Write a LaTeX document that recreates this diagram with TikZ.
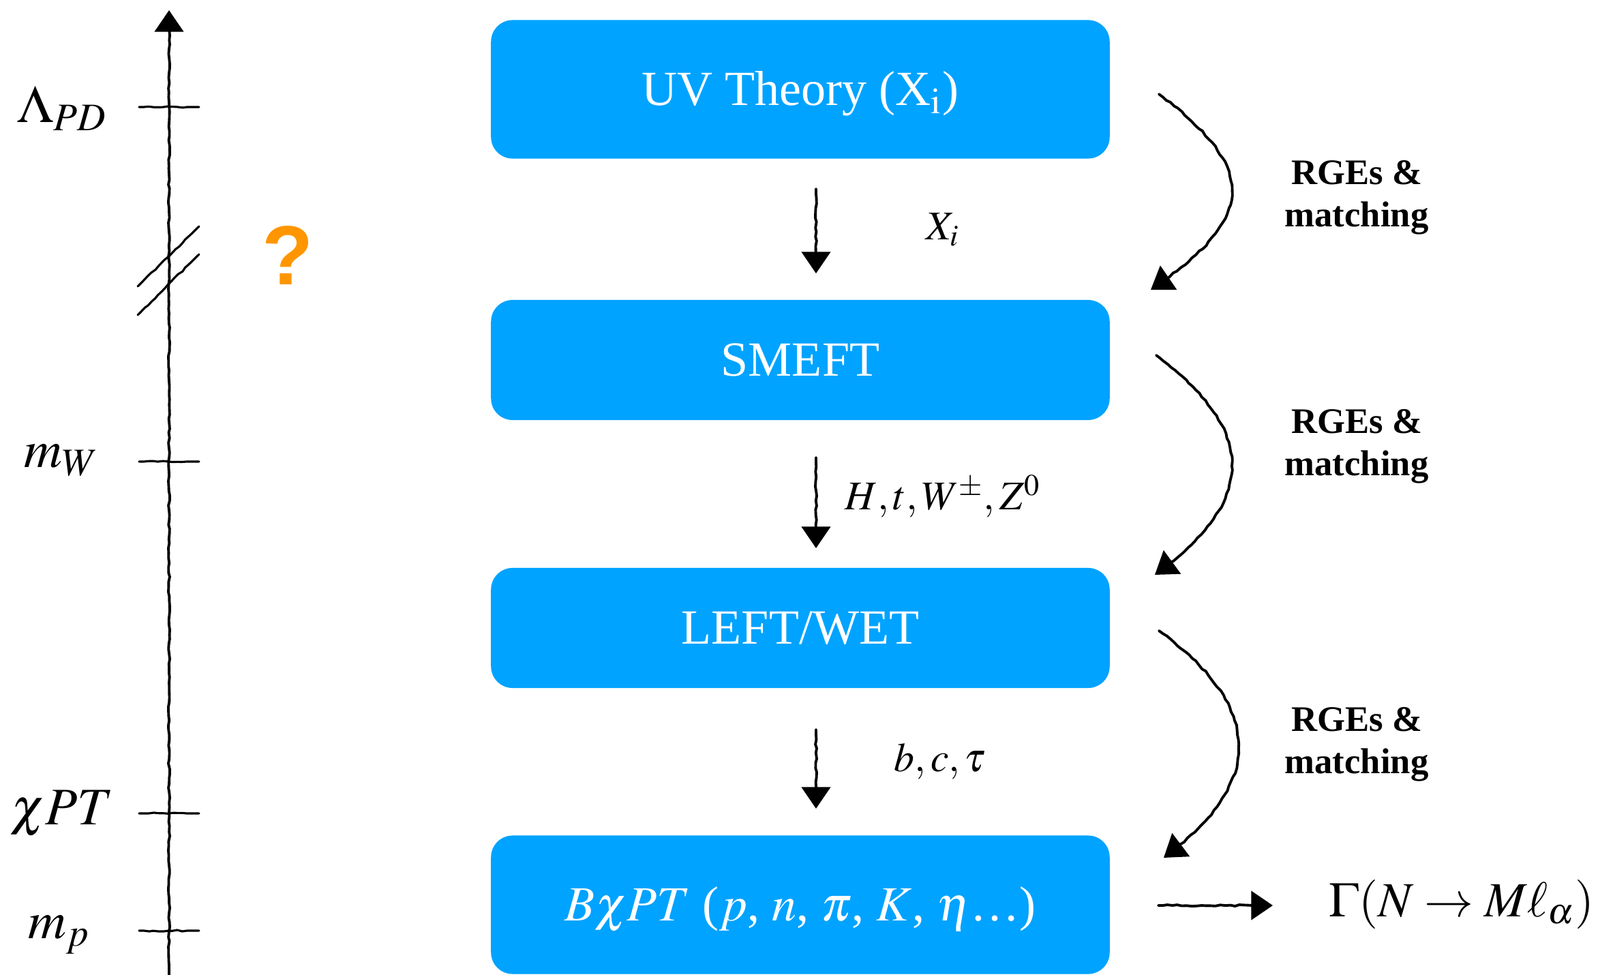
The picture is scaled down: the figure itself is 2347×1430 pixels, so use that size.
\documentclass[tikz,border=0pt]{standalone}
\usepackage{mathptmx}
\usepackage{fontspec}
\setmainfont{Liberation Serif}
\newfontfamily\qfont{Liberation Sans}
\usetikzlibrary{arrows.meta,decorations.pathmorphing}

\definecolor{boxblue}{RGB}{0,163,255}
\definecolor{qorange}{RGB}{255,150,0}

\newcommand{\boxsize}{\fontsize{20.5}{24}\selectfont}
\newcommand{\scalesize}{\fontsize{22}{26}\selectfont}
\newcommand{\fieldsize}{\fontsize{17}{20}\selectfont}
\newcommand{\rgesize}{\fontsize{15}{17.6}\selectfont}

\tikzset{
  sketch/.style={decorate,decoration={random steps,segment length=2pt,
      amplitude=0.3pt,pre length=2pt,post length=5pt},
    line width=1.1pt,line cap=round},
  tip/.style={-{Triangle[width=12pt,length=9pt]}},
  eftbox/.style={rectangle,rounded corners=9pt,fill=boxblue,text=white,
    minimum width=9.07cm,text height=13.6pt,text depth=0pt,font=\boxsize},
}

\begin{document}
\begin{tikzpicture}[x=0.01cm,y=-0.01cm]
  \useasboundingbox (0,0) rectangle (2347,1430);

  % energy axis
  \coordinate (ax0) at (248,1430);
  \coordinate (ax1) at (248,15);
  \draw[sketch,tip] (ax0) -- (ax1);

  \foreach \n/\y in {pd/157,w/677,chi/1193,p/1365}{
    \coordinate (tick\n) at (248,\y);
    \draw[sketch,line width=0.9pt] ([xshift=-0.44cm]tick\n) -- ([xshift=0.44cm]tick\n);
  }

  % axis break
  \coordinate (brk) at (248,397);
  \draw[sketch,line width=0.9pt] ([shift={(-46,23)}]brk) -- ([shift={(44,-65)}]brk);
  \draw[sketch,line width=0.9pt] ([shift={(-46,65)}]brk) -- ([shift={(44,-24)}]brk);

  \begin{scope}[every node/.style={font=\scalesize}]
    \node (lpd)  at (91,159)  {$\Lambda_{PD}$};
    \node (lw)   at (90,675)  {$m_W$};
    \node (lchi) at (91,1193) {$\chi PT$};
    \node (lp)   at (87,1371) {$m_p$};
  \end{scope}

  \node[text=qorange,font=\fontsize{35}{38}\qfont\bfseries] (qm) at (422,375) {?};

  % effective theories
  \begin{scope}[every node/.style={eftbox}]
    \node[minimum height=2.03cm] (uv)    at (1174,131)  {UV Theory (X$_{\mathrm{i}}$)};
    \node[minimum height=1.76cm] (smeft) at (1174,528)  {SMEFT};
    \node[minimum height=1.76cm] (left)  at (1174,921)  {LEFT/WET};
    \node[minimum height=2.03cm] (bchpt) at (1174,1327) {$B\chi PT$ ($p$, $n$, $\pi$, $K$, $\eta$\ldots)};
  \end{scope}

  % integrated out fields
  \coordinate (d1s) at (1197,277);  \coordinate (d1e) at (1197,401);
  \coordinate (d2s) at (1197,671);  \coordinate (d2e) at (1197,804);
  \coordinate (d3s) at (1197,1070); \coordinate (d3e) at (1197,1186);
  \draw[sketch,tip] (d1s) -- (d1e);
  \draw[sketch,tip] (d2s) -- (d2e);
  \draw[sketch,tip] (d3s) -- (d3e);

  \begin{scope}[every node/.style={font=\fieldsize}]
    \node (f1) at (1383,337)  {$X_i$};
    \node (f2) at (1383,728)  {$H, t, W^{\pm}, Z^0$};
    \node (f3) at (1379,1117) {$b, c, \tau$};
  \end{scope}

  % running
  \coordinate (r1s) at (1700,138);  \coordinate (r1e) at (1688,425);
  \coordinate (r2s) at (1696,521);  \coordinate (r2e) at (1694,843);
  \coordinate (r3s) at (1700,925);  \coordinate (r3e) at (1707,1258);
  \draw[sketch,tip] (r1s) .. controls (1845,247) and (1845,319) .. (r1e);
  \draw[sketch,tip] (r2s) .. controls (1845,632) and (1845,735) .. (r2e);
  \draw[sketch,tip] (r3s) .. controls (1855,1038) and (1855,1150) .. (r3e);

  \begin{scope}[every node/.style={align=center,font=\rgesize\bfseries}]
    \node (rge1) at (1990,290)  {RGEs \&\\matching};
    \node (rge2) at (1990,655)  {RGEs \&\\matching};
    \node (rge3) at (1990,1092) {RGEs \&\\matching};
  \end{scope}

  % decay rate
  \coordinate (out0) at (1699,1328);
  \coordinate (out1) at (1867,1328);
  \node[font=\boxsize] (rate) at (2144,1326) {$\Gamma(N \to M\ell_{\alpha})$};
  \draw[sketch,tip] (out0) -- (out1);

\end{tikzpicture}
\end{document}
